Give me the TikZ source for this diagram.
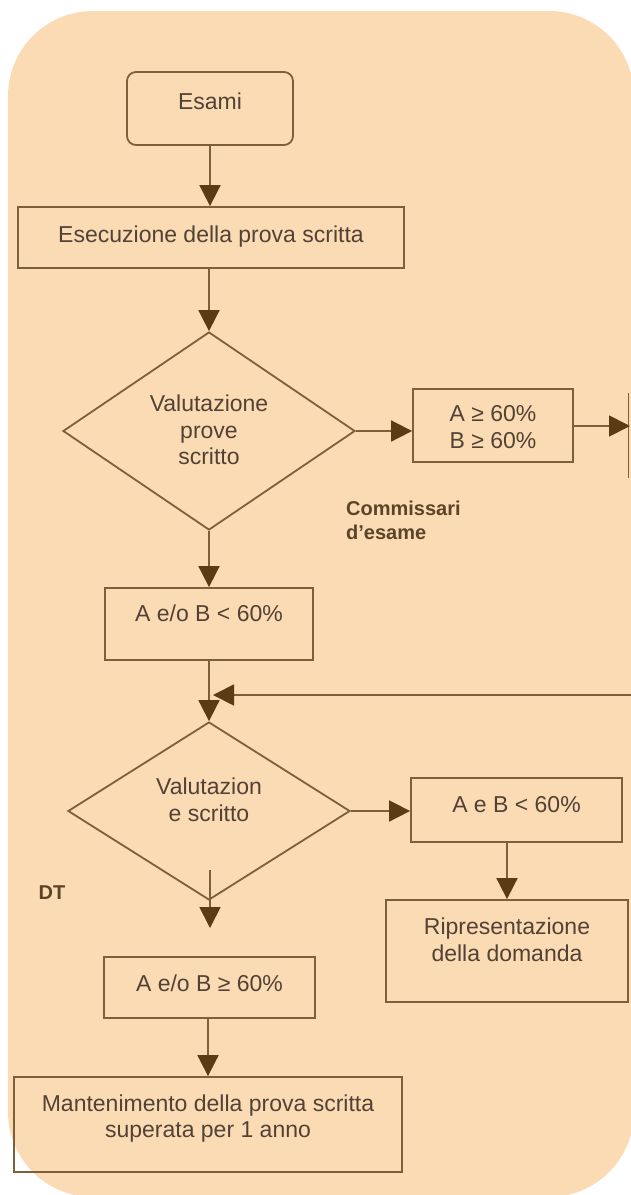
\documentclass[tikz,border=0pt]{standalone}
\usepackage{fontspec}
\setmainfont{Liberation Sans}
\usetikzlibrary{arrows.meta,shapes.geometric}
\definecolor{peach}{RGB}{251,219,179}
\definecolor{linec}{RGB}{125,95,58}
\definecolor{tipc}{RGB}{92,58,20}
\definecolor{txtc}{RGB}{82,66,54}
\definecolor{boldc}{RGB}{92,68,40}
\tikzset{
  every picture/.style={x=1pt,y=-1pt},
  boxstyle/.style={draw=linec,line width=1.8pt,inner sep=0pt,minimum width=#1},
  choice/.style={draw=linec,line width=1.8pt,diamond,inner sep=0pt},
  txt/.style={text=txtc,font=\fontsize{23}{26.5}\selectfont,align=center,inner sep=0pt},
  boldtxt/.style={text=boldc,font=\fontsize{20}{24}\selectfont\bfseries,align=left,inner sep=0pt},
  arr/.style={draw=linec,line width=1.8pt,-{Triangle[length=21pt,width=21pt,color=tipc]}},
  plain/.style={draw=linec,line width=1.8pt},
}
\begin{document}
\begin{tikzpicture}
\useasboundingbox (0,0) rectangle (630,1195);
% background panel
\fill[peach,rounded corners=85pt] (8,11) rectangle (634,1197);

% boxes
\node[boxstyle=166,minimum height=73,rounded corners=9pt] (esami) at (210,108.5) {};
\node[txt] (esami-t) at (210,101) {Esami};

\node[boxstyle=386,minimum height=61] (esec) at (211,237.5) {};
\node[txt] (esec-t) at (211,237) {Esecuzione della prova scritta};

\node[choice,minimum width=292,minimum height=198] (d1) at (209,431) {};
\node[txt] (d1-t) at (209,430) {Valutazione\\prove\\scritto};

\node[boxstyle=160,minimum height=73] (aok) at (493,425.5) {};
\node[txt] (aok-t) at (493,427) {A ≥ 60\%\\B ≥ 60\%};

\node[boldtxt,anchor=west] (comm) at (346,520) {Commissari\\d’esame};

\node[boxstyle=208,minimum height=72] (ako) at (209,624) {};
\node[txt] (ako-t) at (209,613) {A e/o B < 60\%};

\node[choice,minimum width=282,minimum height=178] (d2) at (209,811) {};
\node[txt] (d2-t) at (209,800) {Valutazion\\e scritto};

\node[boxstyle=211,minimum height=64] (ab) at (516.5,810) {};
\node[txt] (ab-t) at (516.5,805) {A e B < 60\%};

\node[boxstyle=242,minimum height=102] (rip) at (507,951) {};
\node[txt] (rip-t) at (507,940) {Ripresentazione\\della domanda};

\node[boldtxt] (dt) at (52,893) {DT};

\node[boxstyle=211,minimum height=61] (okb) at (209.5,987.5) {};
\node[txt] (okb-t) at (209.5,983) {A e/o B ≥ 60\%};

\node[boxstyle=388,minimum height=95] (mant) at (208,1124.5) {};
\node[txt] (mant-t) at (208,1118.5) {Mantenimento della prova scritta\\superata per 1 anno};

% edge of the next block, cut off on the right
\coordinate (next-top) at (628.5,393);
\coordinate (next-bot) at (628.5,478);
\draw[plain] (next-top) -- (next-bot);
\coordinate (next-in) at (630,426);

% return line coming in from the right
\coordinate (back-in) at (634,695);
\coordinate (back-to) at (213,695);

% start of the DT branch inside the second decision
\coordinate (dt-from) at (210,870);
\coordinate (dt-to) at (210,928);

% connectors
\draw[arr] (esami) -- (esami |- esec.north);
\draw[arr] (esec.south -| d1.north) -- (d1.north);
\draw[arr] (d1.east) -- (d1.east -| aok.west);
\draw[arr] (aok.east |- next-in) -- (next-in);
\draw[arr] (d1.south) -- (d1.south |- ako.north);
\draw[arr] (ako.south) -- (d2.north);
\draw[arr] (back-in) -- (back-to);
\draw[arr] (d2.east) -- (d2.east -| ab.west);
\draw[arr] (rip.north |- ab.south) -- (rip.north);
\draw[arr] (dt-from) -- (dt-to);
\draw[arr] (okb.south -| mant.north) -- (mant.north);
\end{tikzpicture}
\end{document}
